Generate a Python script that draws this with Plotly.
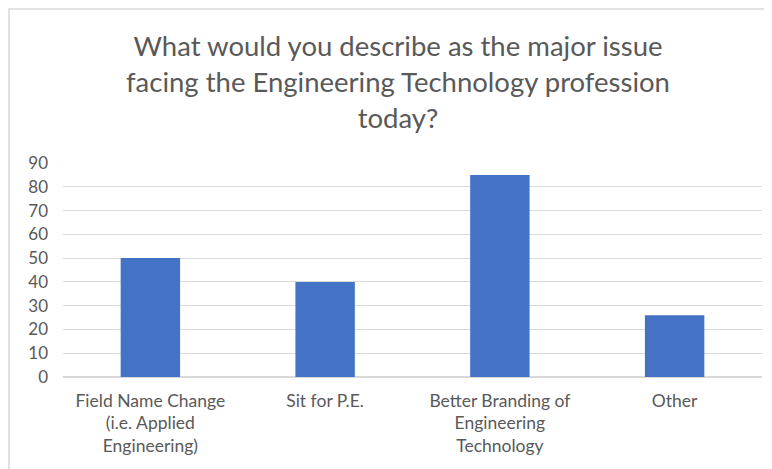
import plotly.graph_objects as go

categories = ["Field Name Change<br>(i.e. Applied<br>Engineering)", "Sit for P.E.",
              "Better Branding of<br>Engineering<br>Technology", "Other"]
values = [50, 40, 85, 26]
title_text = "What would you describe as the major issue<br>facing the Engineering Technology profession<br>today?"

W, H = 764, 461
L, R, T, B = 55, 10, 155, 92
PW, PH = W - L - R, H - T - B

fig = go.Figure(go.Bar(x=categories, y=values, marker=dict(color="#4472C4", line=dict(width=0))))

fig.update_layout(
    width=W, height=H,
    margin=dict(l=L, r=R, t=T, b=B),
    paper_bgcolor="white", plot_bgcolor="white",
    bargap=0.66,
    showlegend=False,
    font=dict(family="Lato", color="#595959"),
    title=dict(text=title_text, x=(398 - 8) / W, xanchor="center", y=1 - 48 / H, yanchor="middle",
               font=dict(family="Lato", size=27.5, color="#595959")),
    xaxis=dict(showgrid=False, showline=False, ticks="", tickfont=dict(size=17.5, color="#595959"),
               tickangle=0, ticklabelstandoff=11),
    yaxis=dict(range=[0, 90], dtick=10, showgrid=True, gridcolor="#d9d9d9", gridwidth=1,
               zeroline=True, zerolinecolor="#d9d9d9", showline=False, ticks="",
               tickfont=dict(size=17, color="#595959"), ticklabelstandoff=14),
    shapes=[dict(type="rect", xref="paper", yref="paper",
                 x0=-(L - 1) / PW, x1=1 + (R + 5) / PW, y0=-(B + 5) / PH, y1=1 + (T - 1) / PH,
                 line=dict(color="#d9d9d9", width=1.5), fillcolor="rgba(0,0,0,0)", layer="below")],
)
fig.write_html("out.html")
